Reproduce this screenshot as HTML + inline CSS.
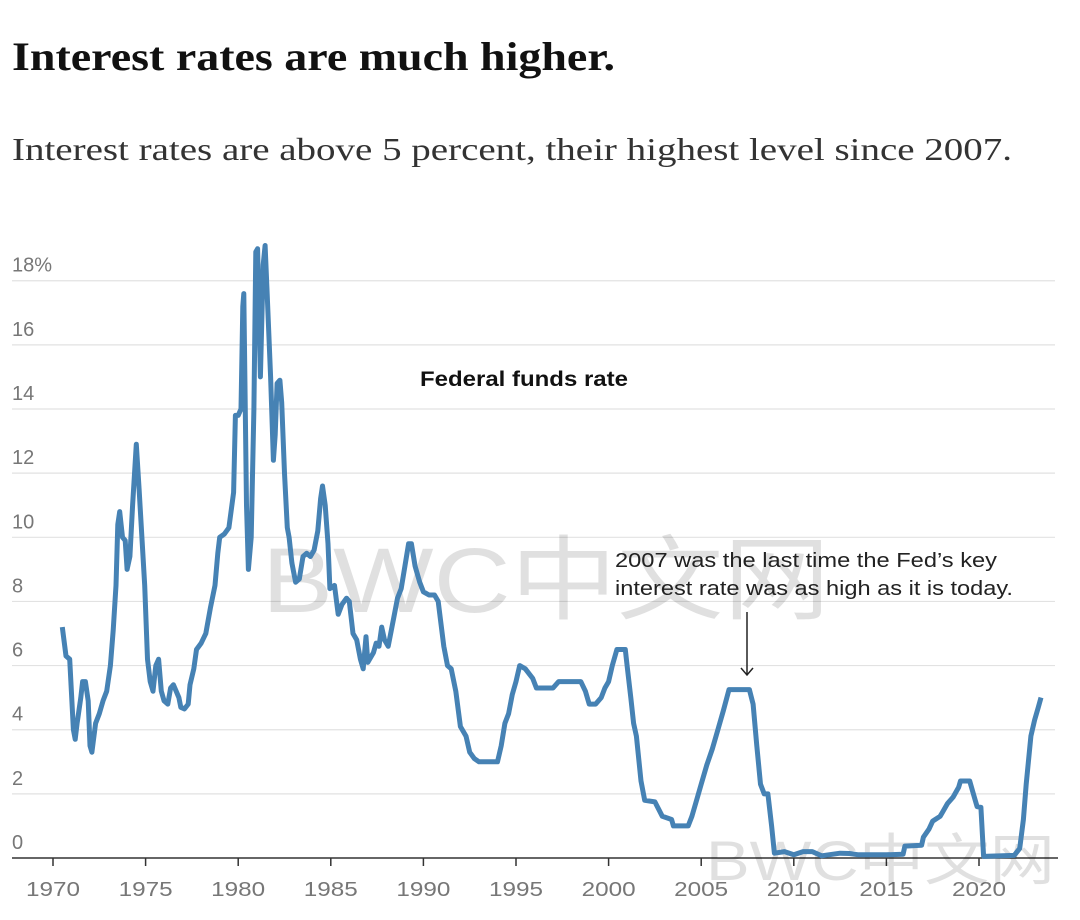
<!DOCTYPE html>
<html><head><meta charset="utf-8"><style>
body{margin:0;background:#fff;width:1080px;height:920px;overflow:hidden}
svg{display:block}
</style></head><body>
<svg width="1080" height="920" xmlns="http://www.w3.org/2000/svg">
<text x="12" y="70" font-family="Liberation Serif, serif" font-weight="bold" font-size="40" fill="#111" textLength="603" lengthAdjust="spacingAndGlyphs">Interest rates are much higher.</text>
<text x="12" y="160" font-family="Liberation Serif, serif" font-size="32" fill="#333" textLength="1000" lengthAdjust="spacingAndGlyphs">Interest rates are above 5 percent, their highest level since 2007.</text>
<g id="grid"></g>
<g id="xaxis"></g>
<text x="262" y="612" font-family="Liberation Sans, 'Noto Sans CJK SC', sans-serif" font-size="92" fill="#000" fill-opacity="0.12" textLength="568" lengthAdjust="spacingAndGlyphs">BWC中文网</text>
<text x="706" y="880" font-family="Liberation Sans, 'Noto Sans CJK SC', sans-serif" font-size="56" fill="#000" fill-opacity="0.12" textLength="349" lengthAdjust="spacingAndGlyphs">BWC中文网</text>
<path id="line" fill="none" stroke="#4682b4" stroke-width="5" stroke-linejoin="round"/>
<text x="420" y="386" font-family="Liberation Sans, sans-serif" font-weight="bold" font-size="21" fill="#111" textLength="208" lengthAdjust="spacingAndGlyphs">Federal funds rate</text>
<text font-family="Liberation Sans, sans-serif" font-size="20" fill="#222"><tspan x="615" y="567" textLength="382" lengthAdjust="spacingAndGlyphs">2007 was the last time the Fed’s key</tspan><tspan x="615" y="595" textLength="398" lengthAdjust="spacingAndGlyphs">interest rate was as high as it is today.</tspan></text>
<g stroke="#222" stroke-width="1.5" fill="none">
<line x1="747" y1="612" x2="747" y2="675"/><polyline points="741,668 747,675 753,668"/></g>
</svg>
<script>
const years=[1970.5,1970.7,1970.9,1971.1,1971.2,1971.3,1971.5,1971.6,1971.75,1971.9,1972.0,1972.1,1972.3,1972.5,1972.7,1972.9,1973.1,1973.25,1973.4,1973.5,1973.6,1973.75,1973.9,1974.0,1974.15,1974.3,1974.5,1974.65,1974.8,1974.95,1975.1,1975.25,1975.4,1975.55,1975.7,1975.85,1976.0,1976.2,1976.35,1976.5,1976.65,1976.8,1976.9,1977.1,1977.3,1977.4,1977.6,1977.75,1978.0,1978.25,1978.5,1978.75,1978.9,1979.0,1979.25,1979.5,1979.75,1979.85,1980.0,1980.15,1980.25,1980.3,1980.45,1980.55,1980.7,1980.85,1980.95,1981.05,1981.2,1981.35,1981.45,1981.55,1981.75,1981.9,1982.0,1982.1,1982.25,1982.35,1982.5,1982.65,1982.75,1982.9,1983.1,1983.3,1983.5,1983.7,1983.9,1984.1,1984.3,1984.45,1984.55,1984.7,1984.85,1984.95,1985.2,1985.4,1985.6,1985.85,1986.0,1986.2,1986.4,1986.6,1986.75,1986.9,1987.0,1987.3,1987.45,1987.6,1987.75,1987.9,1988.1,1988.4,1988.6,1988.8,1989.0,1989.2,1989.35,1989.55,1989.8,1990.0,1990.3,1990.6,1990.8,1990.95,1991.1,1991.3,1991.5,1991.75,1992.0,1992.3,1992.5,1992.75,1993.0,1993.5,1994.0,1994.2,1994.4,1994.6,1994.8,1995.0,1995.2,1995.5,1995.9,1996.1,1996.5,1997.0,1997.3,1997.8,1998.5,1998.75,1998.95,1999.3,1999.6,1999.8,2000.0,2000.2,2000.45,2000.9,2001.0,2001.2,2001.35,2001.5,2001.75,2001.95,2002.5,2002.9,2003.4,2003.5,2004.3,2004.5,2004.8,2005.0,2005.3,2005.6,2005.9,2006.2,2006.5,2007.6,2007.8,2008.0,2008.2,2008.4,2008.6,2008.8,2008.95,2009.5,2010.0,2010.5,2011.0,2011.5,2012.5,2013.0,2013.5,2015.0,2015.9,2016.0,2016.9,2017.0,2017.3,2017.5,2017.9,2018.0,2018.3,2018.6,2018.9,2019.0,2019.5,2019.7,2019.9,2020.1,2020.25,2021.9,2022.2,2022.4,2022.55,2022.8,2023.0,2023.2,2023.35];
const rates=[7.2,6.3,6.2,4.0,3.7,4.2,5.0,5.5,5.5,4.9,3.5,3.3,4.2,4.5,4.9,5.2,6.0,7.1,8.5,10.4,10.8,10.0,9.9,9.0,9.4,11.0,12.9,11.5,10.0,8.5,6.2,5.5,5.2,6.0,6.2,5.2,4.9,4.8,5.3,5.4,5.2,5.0,4.7,4.65,4.8,5.4,5.9,6.5,6.7,7.0,7.8,8.5,9.5,10.0,10.1,10.3,11.4,13.8,13.8,14.0,17.2,17.6,11.0,9.0,10.0,14.0,18.9,19.0,15.0,18.5,19.1,17.8,15.0,12.4,13.2,14.8,14.9,14.2,12.0,10.3,10.0,9.2,8.6,8.7,9.4,9.5,9.4,9.6,10.2,11.2,11.6,11.0,9.8,8.4,8.5,7.6,7.9,8.1,8.0,7.0,6.8,6.2,5.9,6.9,6.1,6.4,6.7,6.6,7.2,6.8,6.6,7.5,8.1,8.4,9.1,9.8,9.8,9.1,8.6,8.3,8.2,8.2,8.0,7.3,6.6,6.0,5.9,5.2,4.1,3.8,3.3,3.1,3.0,3.0,3.0,3.5,4.2,4.5,5.1,5.5,6.0,5.9,5.6,5.3,5.3,5.3,5.5,5.5,5.5,5.2,4.8,4.8,5.0,5.3,5.5,6.0,6.5,6.5,6.0,5.0,4.2,3.8,2.4,1.8,1.75,1.3,1.2,1.0,1.0,1.3,1.9,2.3,2.9,3.4,4.0,4.6,5.25,5.25,4.8,3.5,2.3,2.0,2.0,1.0,0.15,0.2,0.1,0.2,0.2,0.07,0.15,0.14,0.1,0.1,0.12,0.37,0.4,0.65,0.9,1.15,1.3,1.4,1.7,1.9,2.2,2.4,2.4,2.0,1.6,1.58,0.05,0.08,0.3,1.2,2.3,3.8,4.3,4.7,5.0];
const yTicks=[0,2,4,6,8,10,12,14,16,18];
const yTickLabels=["0","2","4","6","8","10","12","14","16","18%"];
const xTicks=[1970,1975,1980,1985,1990,1995,2000,2005,2010,2015,2020];
const NS='http://www.w3.org/2000/svg';
const X=v=>53+(v-1970)*18.52;
const Y=v=>858-v*32.07;
const grid=document.getElementById('grid'),xa=document.getElementById('xaxis');
yTicks.forEach((t,i)=>{
 if(t>0){const l=document.createElementNS(NS,'line');
 l.setAttribute('x1',12);l.setAttribute('x2',1055);l.setAttribute('y1',Y(t));l.setAttribute('y2',Y(t));
 l.setAttribute('stroke','#e2e2e2');l.setAttribute('stroke-width','1.2');
 
 
 grid.appendChild(l);}
 const tx=document.createElementNS(NS,'text');
 tx.setAttribute('x',12);tx.setAttribute('y',Y(t)-9);
 tx.setAttribute('font-family','Liberation Sans, sans-serif');tx.setAttribute('font-size','20');tx.setAttribute('fill','#777');
 tx.textContent=yTickLabels[i];
 
 
 grid.appendChild(tx);
});
const ax=document.createElementNS(NS,'line');
ax.setAttribute('x1',12);ax.setAttribute('x2',1058);ax.setAttribute('y1',858);ax.setAttribute('y2',858);
ax.setAttribute('stroke','#333');ax.setAttribute('stroke-width','1.5');


xa.appendChild(ax);
xTicks.forEach(t=>{
 const l=document.createElementNS(NS,'line');
 l.setAttribute('x1',X(t));l.setAttribute('x2',X(t));l.setAttribute('y1',858);l.setAttribute('y2',866);
 l.setAttribute('stroke','#333');l.setAttribute('stroke-width','1.5');
 
 
 xa.appendChild(l);
 const tx=document.createElementNS(NS,'text');
 tx.setAttribute('x',X(t));tx.setAttribute('y',896);tx.setAttribute('text-anchor','middle');
 tx.setAttribute('font-family','Liberation Sans, sans-serif');tx.setAttribute('font-size','20');tx.setAttribute('fill','#777');
 tx.setAttribute('textLength','54');tx.setAttribute('lengthAdjust','spacingAndGlyphs');
 tx.textContent=t;
 
 
 xa.appendChild(tx);
});
document.getElementById('line').setAttribute('d',years.map((y,i)=>(i?'L':'M')+X(y).toFixed(1)+','+Y(rates[i]).toFixed(1)).join(''));
</script>
</body></html>
